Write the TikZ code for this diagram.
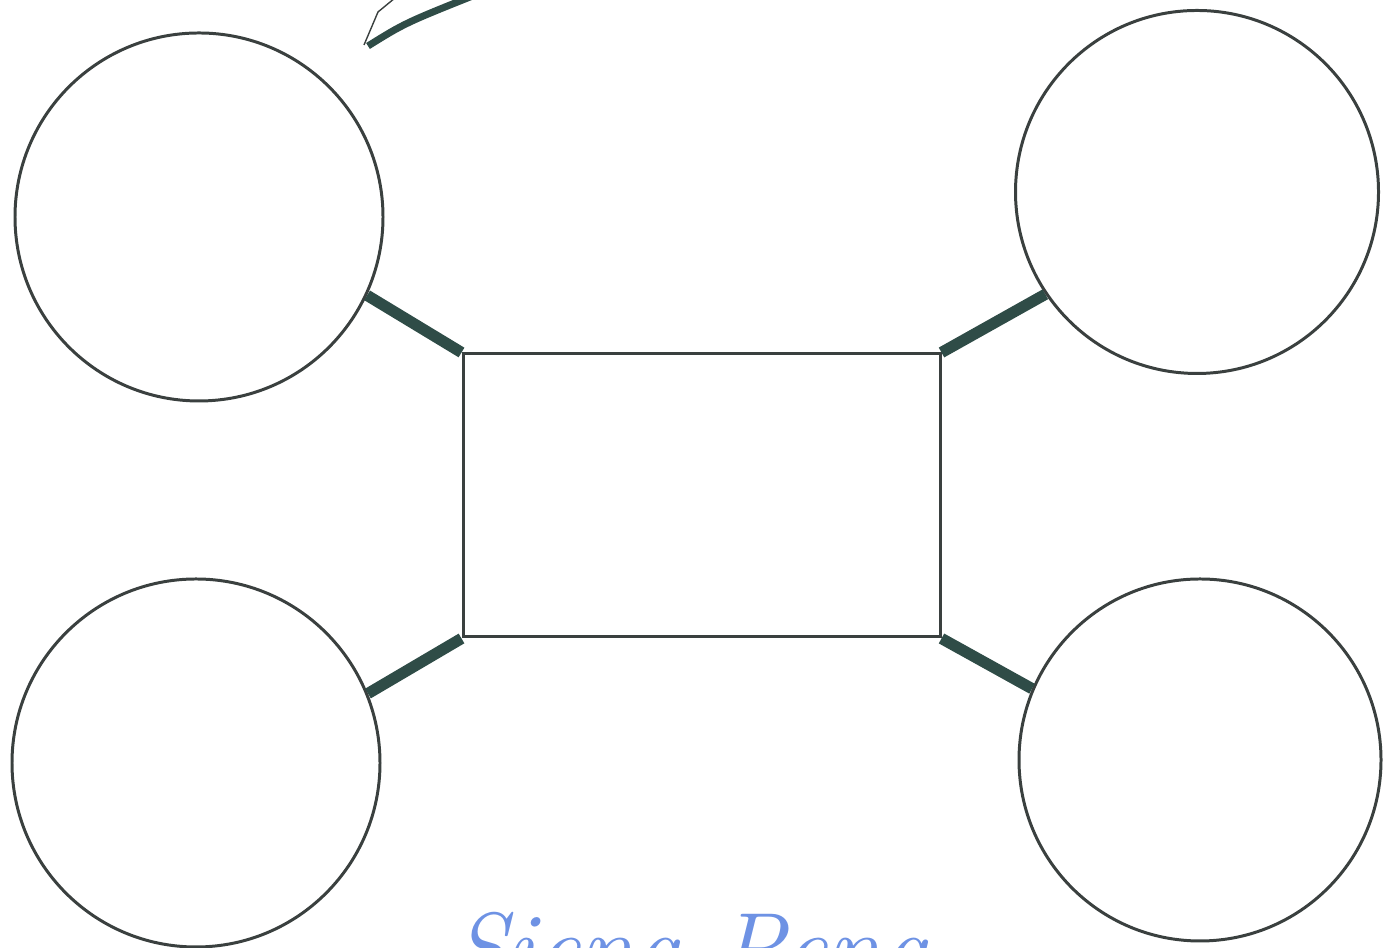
\documentclass[tikz,border=0pt]{standalone}
\usepackage{tikz}
\usetikzlibrary{positioning,calc}
\usepackage{xcolor}
\definecolor{rim}{HTML}{3A403F}
\definecolor{bar}{HTML}{2F4C47}
\definecolor{ink}{HTML}{6E92E4}

\begin{document}
\begin{tikzpicture}[bubble/.style={draw=rim,line width=0.85pt,circle,inner sep=0pt},
  spoke/.style={bar,line width=3.2pt}]
\useasboundingbox (0,0) rectangle (13.89,9.48);
\clip (0,0) rectangle (13.89,9.48);
% centre box
\node[draw=rim,line width=0.85pt,minimum width=4.77cm,minimum height=2.83cm,inner sep=0pt] (hub) at (7.015,4.525) {};
% four bubbles
\node[bubble,minimum size=3.68cm] (tl) at (1.99,7.31) {};
\node[bubble,minimum size=3.63cm] (tr) at (11.97,7.56) {};
\node[bubble,minimum size=3.68cm] (bl) at (1.96,1.85) {};
\node[bubble,minimum size=3.62cm] (br) at (12.00,1.88) {};
\draw[spoke] (hub.north west) -- (tl.-25);
\draw[spoke] (hub.north east) -- (tr.-146);
\draw[spoke] (hub.south west) -- (bl.22);
\draw[spoke] (hub.south east) -- (br.157);
% stroke cut off at the top
\coordinate (sweepA) at (3.68,9.02);
\coordinate (sweepB) at (4.80,9.55);
\draw[bar,line width=2pt] (sweepA) .. controls (4.05,9.25) .. (sweepB);
\draw[rim,line width=0.4pt] (3.64,9.03) -- (3.78,9.36) -- (3.95,9.50);
% handwriting at the bottom edge
\node[ink,anchor=north west,inner sep=0pt,font=\fontsize{28}{32}\selectfont\itshape] (sign) at (4.52,0.36) {Siena Pena};
\end{tikzpicture}
\end{document}
